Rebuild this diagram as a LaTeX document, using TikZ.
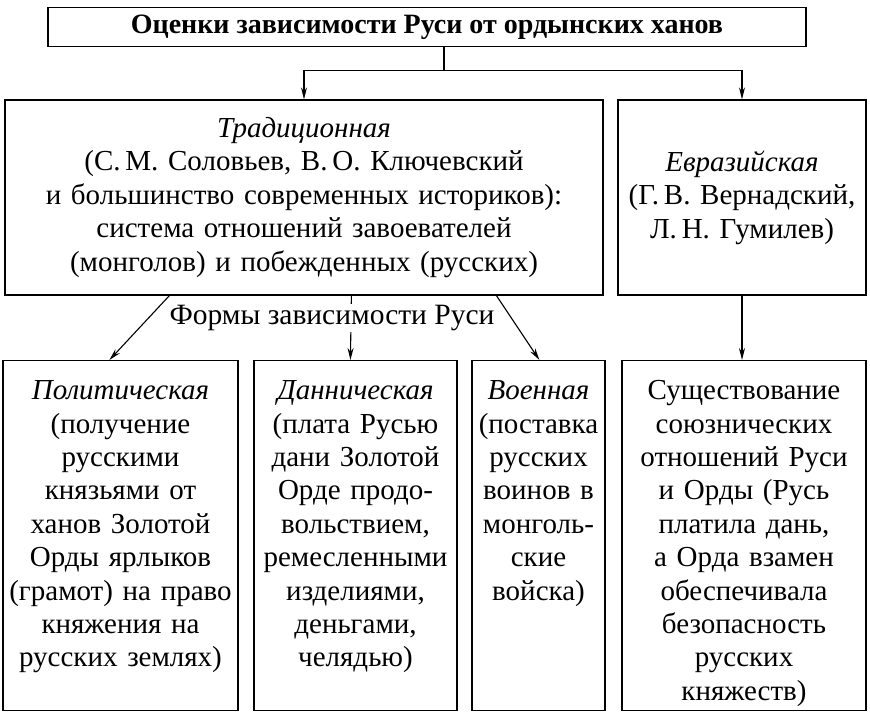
\documentclass[tikz,border=0pt]{standalone}
\usepackage{fontspec}
\setmainfont{Liberation Serif}
\usetikzlibrary{arrows.meta, positioning, calc}

\begin{document}
\begin{tikzpicture}[x=1pt, y=-1pt,
  hbox/.style={draw, line width=1.2pt, inner sep=0pt, align=center, font=\fontsize{29}{33.5}\selectfont},
  fbox/.style={draw, line width=1.2pt, inner xsep=3pt, inner ysep=0pt, align=center, anchor=north, text height=39pt, text depth=311pt, font=\fontsize{29}{33.4}\selectfont},
  arr/.style={line width=1.1pt, -{Stealth[length=12pt, width=6pt]}}
]
\useasboundingbox (0,0) rectangle (870,714);
\node[hbox, minimum width=758pt, minimum height=39pt, font=\bfseries\fontsize{28}{32}\selectfont] (title) at (427,27) {Оценки зависимости Руси от ордынских ханов};
\node[hbox, minimum width=598pt, minimum height=195pt, text width=592pt] (trad) at (304,197.5) {\textit{Традиционная}\\(С.\,М. Соловьев, В.\,О. Ключевский\\и большинство современных историков):\\система отношений завоевателей\\(монголов) и побежденных (русских)};
\node[hbox, minimum width=248pt, minimum height=195pt, text width=244pt] (eur) at (742,197.5) {\textit{Евразийская}\\(Г.\,В. Вернадский,\\Л.\,Н. Гумилев)};
% forms of dependence
\node[fbox, text width=229pt] (pol) at (120.5,360) {\textit{Политическая}\\(получение\\русскими\\князьями от\\ханов Золотой\\Орды ярлыков\\(грамот) на право\\княжения на\\русских землях)};
\node[fbox, text width=197pt] (dan) at (355.5,360) {\textit{Данническая}\\(плата Русью\\дани Золотой\\Орде продо-\\вольствием,\\ремесленными\\изделиями,\\деньгами,\\челядью)};
\node[fbox, text width=127pt] (voen) at (538.5,360) {\textit{Военная}\\(поставка\\русских\\воинов в\\монголь-\\ские\\войска)};
\node[fbox, text width=238pt] (exist) at (744,360) {Существование\\союзнических\\отношений Руси\\и Орды (Русь\\платила дань,\\а Орда взамен\\обеспечивала\\безопасность\\русских\\княжеств)};
% connectors
\draw[line width=1.1pt] ([xshift=17pt]title.south) -- ++(0,23) coordinate (fork);
\draw[arr] (fork) -| (trad.north);
\draw[arr] (fork) -| (eur.north);
\draw[arr] ([xshift=165pt]trad.south west) -- ([xshift=107pt]pol.north west);
\draw[arr] ([xshift=347pt]trad.south west) -- ([xshift=97pt]dan.north west);
\draw[arr] ([xshift=492pt]trad.south west) -- ([xshift=68pt]voen.north west);
\draw[arr] (eur.south) -- (eur.south |- exist.north);
\node[fill=white, inner sep=1pt, font=\fontsize{29.5}{33}\selectfont] (forms) at (332,318) {Формы зависимости Руси};
\end{tikzpicture}
\end{document}
